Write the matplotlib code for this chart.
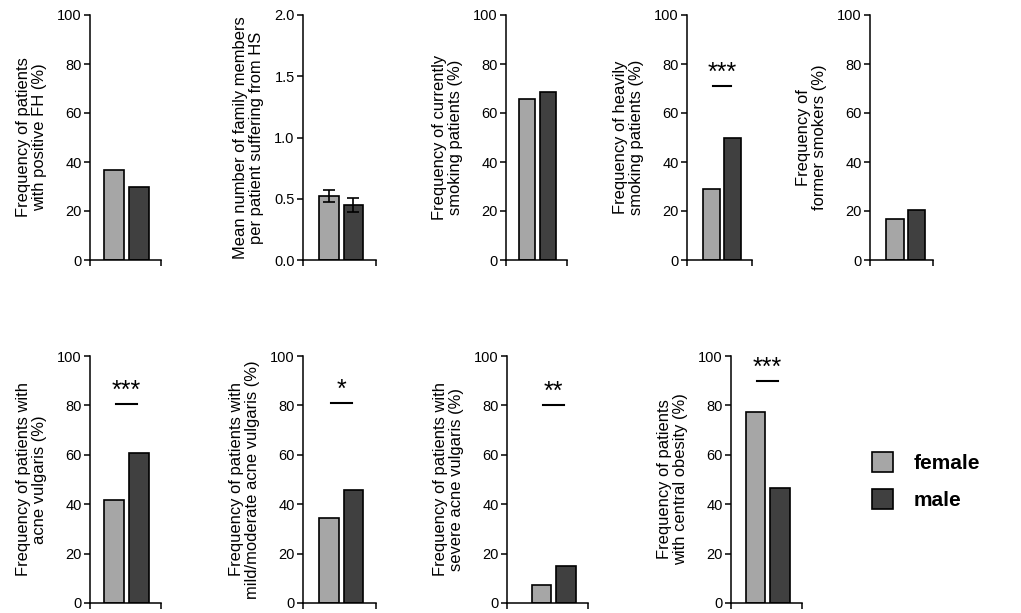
import matplotlib.pyplot as plt
from matplotlib.patches import Patch

plt.rcParams["font.family"] = ["Liberation Sans", "DejaVu Sans"]

GROUPS = ["female", "male"]
COLORS = ["#a6a6a6", "#404040"]

YLABELS = [
    "Frequency of patients\nwith positive FH (%)",
    "Mean number of family members\nper patient suffering from HS",
    "Frequency of currently\nsmoking patients (%)",
    "Frequency of heavily\nsmoking patients (%)",
    "Frequency of\nformer smokers (%)",
    "Frequency of patients with\nacne vulgaris (%)",
    "Frequency of patients with\nmild/moderate acne vulgaris (%)",
    "Frequency of patients with\nsevere acne vulgaris (%)",
    "Frequency of patients\nwith central obesity (%)",
]
FEMALE = [36.6, 0.52, 65.7, 29.0, 16.8, 41.6, 34.6, 7.4, 77.4]
MALE = [29.6, 0.45, 68.6, 49.6, 20.3, 60.6, 45.8, 15.0, 46.6]
FEMALE_ERR = [None, 0.05, None, None, None, None, None, None, None]
MALE_ERR = [None, 0.06, None, None, None, None, None, None, None]
SIG = [None, None, None, "***", None, "***", "*", "**", "***"]
SIG_Y = [None, None, None, 71, None, 80.5, 81, 80, 90]
YMAX = [100, 2.0, 100, 100, 100, 100, 100, 100, 100]
YSTEP = [20, 0.5, 20, 20, 20, 20, 20, 20, 20]

# axes placement in pixels: left, width, bottom-of-axis y, top-of-axis y, xlim
W, H = 1021, 613
LAYOUT = [
    (90, 71, 260, 15, (-0.96, 1.88)),
    (303, 73, 260, 15, (-1.06, 1.92)),
    (506, 61, 260, 15, (-1.0, 1.9)),
    (687, 65, 260, 15, (-1.17, 1.93)),
    (870, 63, 260, 15, (-1.16, 1.77)),
    (90, 71, 603, 356, (-0.96, 1.88)),
    (303, 73, 603, 356, (-1.06, 1.92)),
    (507, 81, 603, 356, (-1.41, 1.9)),
    (731, 71, 603, 356, (-1.0, 1.9)),
]


def main():
    fig = plt.figure(figsize=(W / 100, H / 100), dpi=100)

    for i, (left, width, y0, y1, xlim) in enumerate(LAYOUT):
        ax = fig.add_axes([left / W, (H - y0) / H, width / W, (y0 - y1) / H])
        vals = [FEMALE[i], MALE[i]]
        errs = [FEMALE_ERR[i], MALE_ERR[i]]
        ax.bar([0, 1], vals, width=0.8, color=COLORS, edgecolor="black",
               linewidth=1.2, zorder=2)
        if errs[0] is not None:
            ax.errorbar([0, 1], vals, yerr=errs, fmt="none", ecolor="black",
                        elinewidth=1.2, capsize=4, capthick=1.2, zorder=3)
        if SIG[i]:
            y = SIG_Y[i]
            ax.plot([0.08, 0.92], [y, y], color="black", lw=1.5)
            ax.text(0.5, y + 0.5, SIG[i], ha="center", va="bottom",
                    fontsize=18)

        ax.set_xlim(*xlim)
        ax.set_ylim(0, YMAX[i])
        n = int(round(YMAX[i] / YSTEP[i]))
        ticks = [k * YSTEP[i] for k in range(n + 1)]
        ax.set_yticks(ticks)
        if YSTEP[i] < 1:
            ax.set_yticklabels([f"{t:.1f}" for t in ticks])
        ax.set_xticks(list(xlim))
        ax.set_xticklabels([])
        ax.tick_params(axis="both", direction="out", length=4, width=1.1,
                       labelsize=10.5, pad=2)
        for side in ["top", "right"]:
            ax.spines[side].set_visible(False)
        for side in ["left", "bottom"]:
            ax.spines[side].set_linewidth(1.1)
        ax.set_ylabel(YLABELS[i], fontsize=11.9, labelpad=7, linespacing=1.12)

    handles = [Patch(facecolor=c, edgecolor="black", linewidth=1.2, label=g)
               for c, g in zip(COLORS, GROUPS)]
    fig.legend(handles=handles, loc="center left",
               bbox_to_anchor=(853 / W, (H - 481) / H), frameon=False,
               prop={"size": 15, "weight": "bold"}, handlelength=1.0,
               handleheight=1.1, handletextpad=1.0, labelspacing=0.8)

    fig.savefig("out.png", dpi=100)
    plt.close(fig)


if __name__ == "__main__":
    main()
